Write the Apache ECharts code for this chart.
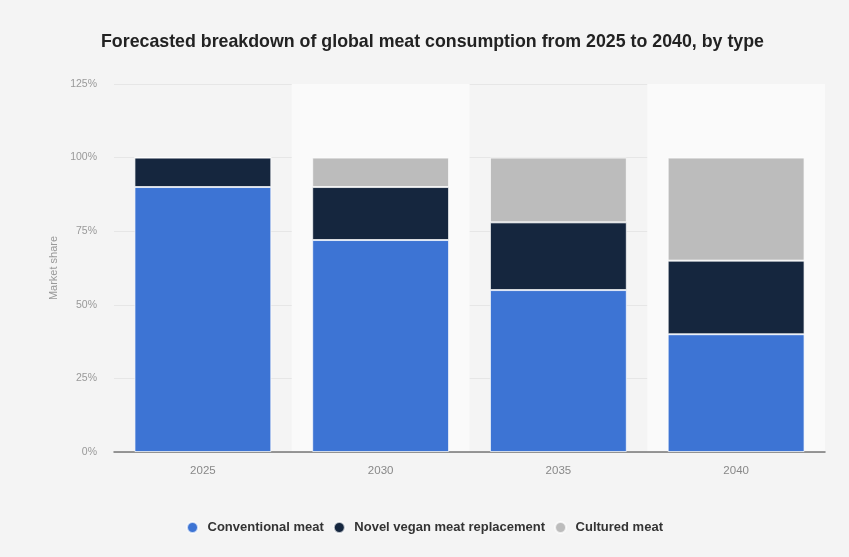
<!DOCTYPE html>
<html>
<head>
<meta charset="utf-8">
<script src="https://cdn.jsdelivr.net/npm/echarts@6/dist/echarts.min.js"></script>
<style>
  html, body { margin: 0; padding: 0; background: #f4f4f4; }
  #chart { width: 849px; height: 557px; }
</style>
</head>
<body>
<div id="chart"></div>
<script>
const years = ['2025', '2030', '2035', '2040'];
const conventional = [90, 72, 55, 40];
const novelVegan = [10, 18, 23, 25];
const cultured = [0, 10, 22, 35];
const yTicks = [0, 25, 50, 75, 100, 125];

const chart = echarts.init(document.getElementById('chart'));

const barStyle = (color) => ({
    color: color,
    borderColor: 'rgba(255, 255, 255, 0.7)',
    borderWidth: 1,
});

const option = {
    backgroundColor: '#f4f4f4',
    textStyle: { fontFamily: 'Liberation Sans, Arial, sans-serif' },
    title: {
        text: 'Forecasted breakdown of global meat consumption from 2025 to 2040, by type',
        left: 96,
        top: 28,
        textStyle: { fontSize: 17.8, fontWeight: 'bold', color: '#222' },
    },
    legend: {
        bottom: 18,
        left: 'center',
        icon: 'circle',
        itemWidth: 20,
        itemHeight: 11,
        itemGap: 9,
        textStyle: { fontSize: 13, fontWeight: 'bold', color: '#333' },
        data: ['Conventional meat', 'Novel vegan meat replacement', 'Cultured meat'],
    },
    grid: { left: 114, right: 24, top: 84, bottom: 105 },
    xAxis: {
        type: 'category',
        data: years,
        axisLine: { lineStyle: { color: '#777', width: 1.5 } },
        axisTick: { show: false },
        axisLabel: { color: '#888', fontSize: 11.5, margin: 13 },
        splitArea: {
            show: true,
            areaStyle: { color: ['rgba(0,0,0,0)', '#fafafa'] },
        },
    },
    yAxis: {
        type: 'value',
        min: yTicks[0],
        max: yTicks[yTicks.length - 1],
        interval: 25,
        name: 'Market share',
        nameLocation: 'middle',
        nameGap: 50,
        nameTextStyle: { color: '#999', fontSize: 11 },
        axisLine: { show: false },
        axisTick: { show: false },
        axisLabel: { color: '#999', fontSize: 10.5, formatter: '{value}%', margin: 17 },
        splitLine: { lineStyle: { color: '#e6e6e6', width: 1 } },
    },
    series: [
        {
            name: 'Conventional meat',
            type: 'bar',
            stack: 'share',
            barWidth: '77%',
            itemStyle: barStyle('#3d74d4'),
            data: conventional,
        },
        {
            name: 'Novel vegan meat replacement',
            type: 'bar',
            stack: 'share',
            itemStyle: barStyle('#15263e'),
            data: novelVegan,
        },
        {
            name: 'Cultured meat',
            type: 'bar',
            stack: 'share',
            itemStyle: barStyle('#bcbcbc'),
            data: cultured,
        },
    ],
};

chart.setOption(option);
</script>
</body>
</html>
